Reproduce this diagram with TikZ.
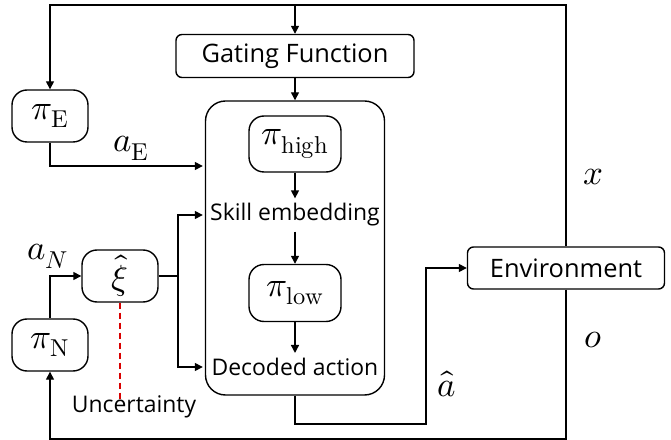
\documentclass[tikz,border=0pt]{standalone}
\usepackage{fontspec}
\usepackage{unicode-math}
\setmainfont{Open Sans}
\setmathfont{Latin Modern Math}
\usetikzlibrary{arrows.meta}
\newcommand\txtsz{\fontsize{23}{27}\selectfont}
\newcommand\bigsz{\fontsize{25.5}{30}\selectfont}
\newcommand\mthsz{\fontsize{35}{42}\selectfont}
\begin{document}
\begin{tikzpicture}[x=1bp,y=-1bp,
  every node/.style={font=\txtsz},
  ln/.style={line width=1.4bp},
  arr/.style={ln,-{Triangle[length=8bp,width=8bp]}},
  rbox/.style={draw,ln,rounded corners=6bp,inner sep=0pt,font=\bigsz},
  pbox/.style={draw,ln,rounded corners=15bp,inner sep=0pt,font=\mthsz},
  lbl/.style={font=\mthsz,inner sep=0pt},
  txt/.style={inner xsep=0pt,inner ysep=5bp}]
\useasboundingbox (0,0) rectangle (671,440);
% nodes
\node[rbox,minimum width=238bp,minimum height=43bp] (gate) at (295,56) {Gating Function};
\node[draw,ln,rounded corners=20bp,minimum width=179bp,minimum height=294bp] (big) at (295,248) {};
\node[pbox,minimum width=92bp,minimum height=56bp] (high) at (295,144) {$\pi_{\symup{high}}$};
\node[txt] (skill) at (295,215) {Skill embedding};
\node[pbox,minimum width=92bp,minimum height=57bp] (low) at (295,293) {$\pi_{\symup{low}}$};
\node[txt] (dec) at (295,367) {Decoded action};
\node[rbox,minimum width=197bp,minimum height=42bp] (env) at (566,268) {Environment};
\node[pbox,minimum width=76bp,minimum height=52bp] (piE) at (50,116) {$\pi_{\symup{E}}$};
\node[pbox,minimum width=76bp,minimum height=52bp] (piN) at (50,345) {$\pi_{\symup{N}}$};
\node[pbox,minimum width=76bp,minimum height=52bp] (xi) at (120,276) {$\hat{\xi}$};
\node[txt] (unc) at (134,407) {Uncertainty};
% labels
\node[lbl] (laE) at (131,148) {$a_{\symup{E}}$};
\node[lbl] (laN) at (48,256) {$a_N$};
\node[lbl] (lx) at (593,177) {$x$};
\node[lbl] (lo) at (593,340) {$o$};
\node[lbl] (lah) at (447,384) {$\hat{a}$};
% coordinates
\coordinate (topy) at (0,5);
\coordinate (boty) at (0,439);
\coordinate (aEy) at (0,166);
\coordinate (j) at (178,276);
\coordinate (ah) at (426,424);
% connectors
\draw[arr] (env.north) -- (env.north |- topy) -- (piE.north |- topy) -- (piE.north);
\draw[arr] (gate.north |- topy) -- (gate.north);
\draw[arr] (gate.south) -- (big.north);
\draw[arr] (piE.south) |- ([xshift=-2bp]big.west |- aEy);
\draw[arr] (high.south) -- (skill.north);
\draw[arr] (skill.south) -- (low.north);
\draw[arr] (low.south) -- (dec.north);
\draw[ln] (xi.east) -- (j);
\draw[arr] (j) |- ([xshift=-2bp]big.west |- skill.center);
\draw[arr] (j) |- ([xshift=-2bp]big.west |- dec.center);
\draw[arr] (piN.north) |- (xi.west);
\draw[ln,red!85!black,dash pattern=on 6bp off 4bp] (xi.south) -- ([yshift=-8bp]xi.south |- unc.north);
\draw[arr] (big.south) |- (ah) |- (env.west);
\draw[arr] (env.south) -- (env.south |- boty) -- (piN.south |- boty) -- (piN.south);
\end{tikzpicture}
\end{document}
